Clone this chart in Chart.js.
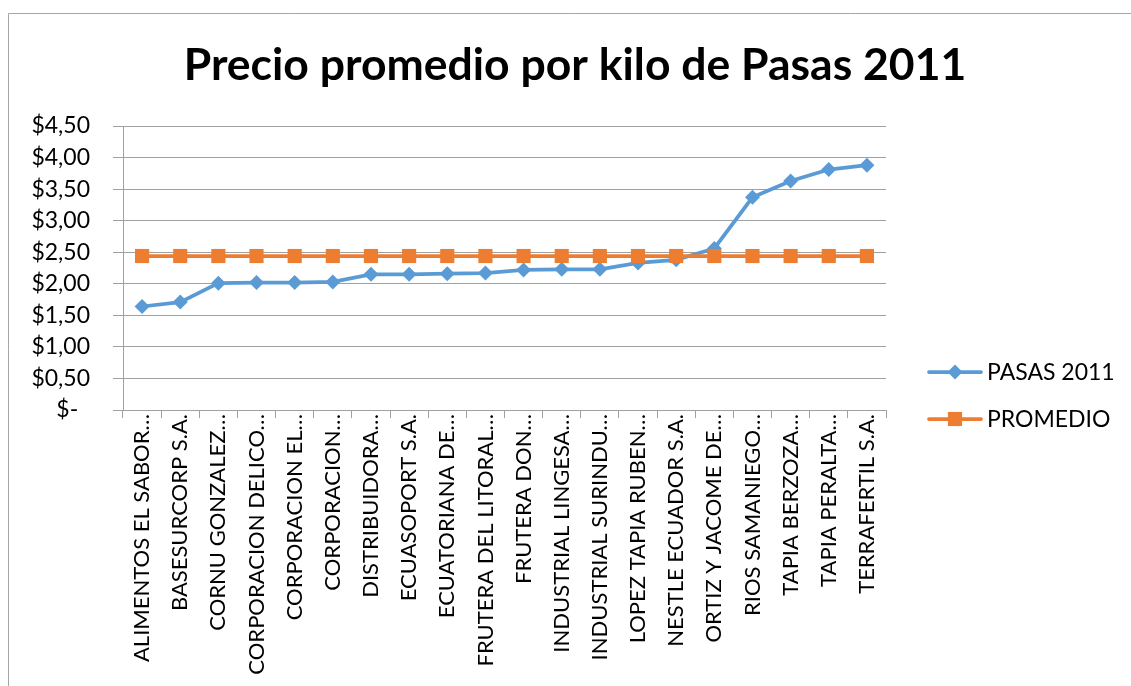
<!DOCTYPE html>
<html><head><meta charset="utf-8">
<script src="https://cdn.jsdelivr.net/npm/chart.js@4.4.0/dist/chart.umd.min.js"></script>
<style>html,body{margin:0;padding:0;background:#fff;overflow:hidden}#wrap{position:relative;width:1131px;height:686px}</style>
</head><body><div id="wrap"><canvas id="c" width="1131" height="686"></canvas></div>
<script>
const categories = [
  "ALIMENTOS EL SABOR…", "BASESURCORP S.A.", "CORNU GONZALEZ…", "CORPORACION DELICO…",
  "CORPORACION EL…", "CORPORACION…", "DISTRIBUIDORA…", "ECUASOPORT S.A.",
  "ECUATORIANA DE…", "FRUTERA DEL LITORAL…", "FRUTERA DON…", "INDUSTRIAL LINGESA…",
  "INDUSTRIAL SURINDU…", "LOPEZ TAPIA RUBEN…", "NESTLE ECUADOR S.A.", "ORTIZ Y JACOME DE…",
  "RIOS SAMANIEGO…", "TAPIA BERZOZA…", "TAPIA PERALTA…", "TERRAFERTIL S.A."
];
const pasas2011 = [1.64, 1.71, 2.01, 2.02, 2.02, 2.03, 2.15, 2.15, 2.16, 2.17,
                   2.22, 2.23, 2.23, 2.33, 2.38, 2.56, 3.37, 3.63, 3.81, 3.88];
const promedio = [2.44, 2.44, 2.44, 2.44, 2.44, 2.44, 2.44, 2.44, 2.44, 2.44,
                  2.44, 2.44, 2.44, 2.44, 2.44, 2.44, 2.44, 2.44, 2.44, 2.44];
const yTickLabels = ["$-  ", "$0,50", "$1,00", "$1,50", "$2,00", "$2,50", "$3,00", "$3,50", "$4,00", "$4,50"];
const seriesNames = ["PASAS 2011", "PROMEDIO"];
const titleText = "Precio promedio por kilo de Pasas 2011";

const FONT = "Lato";
const GRID = "#a0a0a0";
const BLUE = "#5B9BD5";
const ORANGE = "#ED7D31";

const framePlugin = {
  id: "frame",
  beforeDraw(chart) {
    const ctx = chart.ctx;
    ctx.save();
    ctx.fillStyle = "#fff";
    ctx.fillRect(0, 0, chart.width, chart.height);
    ctx.strokeStyle = "#a6a6a6";
    ctx.lineWidth = 1;
    ctx.beginPath();
    ctx.moveTo(8.5, chart.height);
    ctx.lineTo(8.5, 13.5);
    ctx.lineTo(chart.width, 13.5);
    ctx.stroke();
    ctx.restore();
  },
  afterDraw(chart) {
    const ctx = chart.ctx;
    ctx.save();
    ctx.fillStyle = "#000";
    ctx.font = "bold 44.5px " + FONT;
    ctx.textAlign = "center";
    ctx.textBaseline = "middle";
    ctx.fillText(titleText, 575, 66);
    ctx.restore();
  }
};

const legendPlugin = {
  id: "customLegend",
  afterDraw(chart) {
    const ctx = chart.ctx;
    const ys = [372, 419];
    const x0 = 929, x1 = 981, xm = 955, tx = 987;
    chart.data.datasets.forEach((ds, i) => {
      const y = ys[i];
      ctx.save();
      ctx.strokeStyle = ds.borderColor;
      ctx.lineWidth = ds.borderWidth;
      ctx.lineCap = "round";
      ctx.beginPath();
      ctx.moveTo(x0, y);
      ctx.lineTo(x1, y);
      ctx.stroke();
      ctx.fillStyle = ds.pointBackgroundColor;
      ctx.beginPath();
      if (ds.pointStyle === "rectRot") {
        const r = ds.pointRadius;
        ctx.moveTo(xm, y - r); ctx.lineTo(xm + r, y); ctx.lineTo(xm, y + r); ctx.lineTo(xm - r, y);
        ctx.closePath();
        ctx.fill();
      } else {
        const s = ds.pointRadius * Math.SQRT1_2;
        ctx.fillRect(xm - s, y - s, 2 * s, 2 * s);
      }
      ctx.fillStyle = "#000";
      ctx.font = "23px " + FONT;
      ctx.textBaseline = "middle";
      ctx.textAlign = "left";
      ctx.fillText(ds.label, tx, y + 1);
      ctx.restore();
    });
  }
};

new Chart(document.getElementById("c"), {
  type: "line",
  data: {
    labels: categories,
    datasets: [
      {
        label: seriesNames[0], data: pasas2011, order: 2,
        borderColor: BLUE, backgroundColor: BLUE, borderWidth: 3.75,
        pointStyle: "rectRot", pointRadius: 7.5, pointBackgroundColor: BLUE,
        pointBorderColor: BLUE, pointBorderWidth: 0, tension: 0
      },
      {
        label: seriesNames[1], data: promedio, order: 1,
        borderColor: ORANGE, backgroundColor: ORANGE, borderWidth: 3.75,
        pointStyle: "rect", pointRadius: 10, pointBackgroundColor: ORANGE,
        pointBorderColor: ORANGE, pointBorderWidth: 0, tension: 0
      }
    ]
  },
  options: {
    responsive: false,
    animation: false,
    devicePixelRatio: 1,
    layout: { padding: { left: 0, right: 245, top: 126, bottom: 0 } },
    plugins: {
      legend: { display: false },
      tooltip: { enabled: false },
      title: { display: false }
    },
    scales: {
      x: {
        offset: true,
        grid: { offset: true, drawOnChartArea: false, drawTicks: true, tickLength: 8, color: GRID, lineWidth: 1 },
        border: { color: GRID, width: 1 },
        ticks: {
          color: "#000", font: { family: FONT, size: 22 },
          minRotation: 90, maxRotation: 90, autoSkip: false, padding: -4
        },
        afterFit(scale) { scale.height = 276; }
      },
      y: {
        min: 0, max: 4.5,
        grid: { color: GRID, lineWidth: 1, drawTicks: true, tickLength: 10 },
        border: { color: GRID, width: 1 },
        ticks: {
          stepSize: 0.5, color: "#000", font: { family: FONT, size: 23 }, padding: 23,
          callback: (v, i) => yTickLabels[i]
        },
        afterFit(scale) { scale.width = 123; }
      }
    }
  },
  plugins: [framePlugin, legendPlugin]
});
</script></body></html>
